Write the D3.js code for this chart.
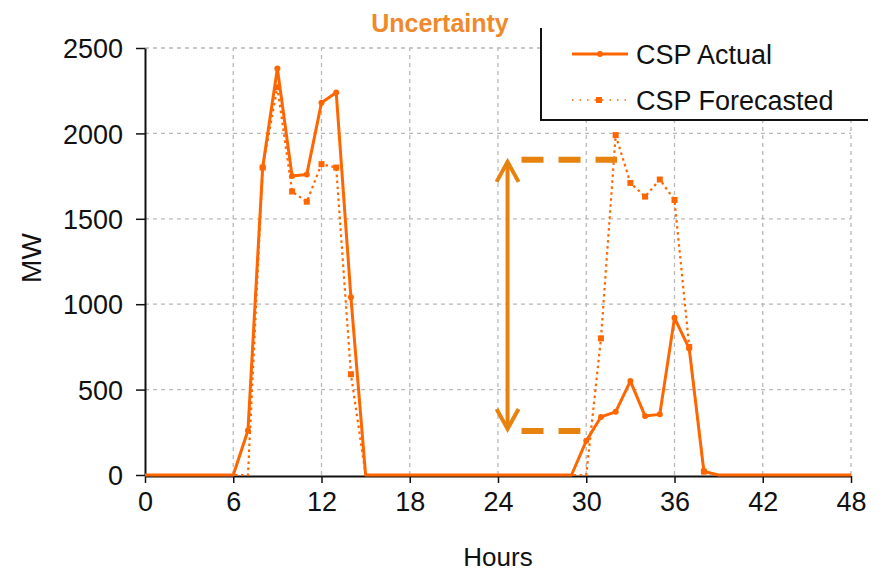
<!DOCTYPE html>
<html>
<head>
<meta charset="utf-8">
<script src="https://cdn.jsdelivr.net/npm/d3@7"></script>
<style>
  html, body { margin: 0; padding: 0; background: #fff; }
  svg { display: block; font-family: "Liberation Sans", Arial, sans-serif; }
</style>
</head>
<body>
<svg id="chart" width="883" height="572"></svg>
<script>
// ---- data ----
const hours = [0,1,2,3,4,5,6,7,8,9,10,11,12,13,14,15,16,17,18,19,20,21,22,23,24,
               25,26,27,28,29,30,31,32,33,34,35,36,37,38,39,40,41,42,43,44,45,46,47,48];
const cspActual = [0,0,0,0,0,0,0,260,1800,2380,1750,1760,2180,2240,1040,0,
                   0,0,0,0,0,0,0,0,0,0,0,0,0,0,
                   200,340,370,550,345,355,920,740,20,
                   0,0,0,0,0,0,0,0,0,0];
const cspForecast = [0,0,0,0,0,0,0,0,1800,2270,1660,1600,1820,1800,590,0,
                     0,0,0,0,0,0,0,0,0,0,0,0,0,0,0,
                     800,1990,1710,1630,1730,1610,750,20,
                     0,0,0,0,0,0,0,0,0,0];
const xTicks = [0,6,12,18,24,30,36,42,48];
const yTicks = [0,500,1000,1500,2000,2500];
const seriesNames = ["CSP Actual", "CSP Forecasted"];
const titleText = "Uncertainty";
const xLabel = "Hours";
const yLabel = "MW";
// annotation (data units): arrow hour, top/bottom MW, dash end hours
const annArrowHour = 24.65;
const annTop = 1845;
const annBottom = 258;
const annDashStart = 25.6;
const annTopDashEnd = 32.1;
const annBottomDashEnd = 29.6;

// ---- layout ----
const svg = d3.select("#chart");
const x = d3.scaleLinear().domain([0, 48]).range([145, 851]);
const y = d3.scaleLinear().domain([0, 2500]).range([475, 48]);
const orange = "#ff6600";
const annColor = "#e8820e";

// gridlines
const grid = svg.append("g");
grid.selectAll("line.h").data(yTicks.filter(d => d > 0)).join("line")
  .attr("x1", x(0)).attr("x2", x(48))
  .attr("y1", d => y(d)).attr("y2", d => y(d))
  .attr("stroke", "#b8b8b8").attr("stroke-width", 1.3).attr("stroke-dasharray", "4,4");
grid.selectAll("line.v").data(xTicks.filter(d => d > 0)).join("line")
  .attr("x1", d => x(d)).attr("x2", d => x(d))
  .attr("y1", y(0)).attr("y2", y(2500))
  .attr("stroke", "#b8b8b8").attr("stroke-width", 1.3).attr("stroke-dasharray", "4,4");

// axes
const xAxis = svg.append("g").attr("transform", `translate(0,${y(0)+1})`)
  .call(d3.axisBottom(x).tickValues(xTicks).tickFormat(d3.format("d"))
    .tickSize(7).tickSizeOuter(0).tickPadding(9));
const yAxis = svg.append("g").attr("transform", `translate(${x(0)},0)`)
  .call(d3.axisLeft(y).tickValues(yTicks).tickFormat(d3.format("d"))
    .tickSize(9).tickSizeOuter(0).tickPadding(13));
[xAxis, yAxis].forEach(a => {
  a.select(".domain").attr("stroke", "#111").attr("stroke-width", 2);
  a.selectAll(".tick line").attr("stroke", "#111").attr("stroke-width", 1.5);
  a.selectAll(".tick text").attr("font-size", 27).attr("fill", "#111")
    .attr("font-family", "Liberation Sans, Arial, sans-serif");
});
yAxis.selectAll(".tick text").attr("dy", "0.36em");

// lines
const pts = (vals) => hours.map((h, i) => [h, vals[i]]);
const line = d3.line().x(d => x(d[0])).y(d => y(d[1]));

svg.append("path").datum(pts(cspForecast)).attr("d", line)
  .attr("fill", "none").attr("stroke", orange).attr("stroke-width", 2.2)
  .attr("stroke-dasharray", "2.5,3.5");
svg.selectAll("rect.fm").data(pts(cspForecast).filter(d => d[1] > 0)).join("rect")
  .attr("x", d => x(d[0]) - 3).attr("y", d => y(d[1]) - 3)
  .attr("width", 6).attr("height", 6).attr("fill", orange);

svg.append("path").datum(pts(cspActual)).attr("d", line)
  .attr("fill", "none").attr("stroke", orange).attr("stroke-width", 3)
  .attr("stroke-linejoin", "round");
svg.selectAll("circle.am").data(pts(cspActual).filter(d => d[1] > 0)).join("circle")
  .attr("cx", d => x(d[0])).attr("cy", d => y(d[1])).attr("r", 3).attr("fill", orange);

// annotation
const ann = svg.append("g").attr("stroke", annColor).attr("fill", "none");
ann.append("line")
  .attr("x1", x(annDashStart)).attr("x2", x(annTopDashEnd))
  .attr("y1", y(annTop)).attr("y2", y(annTop))
  .attr("stroke-width", 6).attr("stroke-dasharray", "22,15");
ann.append("line")
  .attr("x1", x(annDashStart)).attr("x2", x(annBottomDashEnd))
  .attr("y1", y(annBottom)).attr("y2", y(annBottom))
  .attr("stroke-width", 6).attr("stroke-dasharray", "22,15");
const ax = x(annArrowHour);
ann.append("line").attr("x1", ax).attr("x2", ax)
  .attr("y1", y(annTop) + 3).attr("y2", y(annBottom) - 3).attr("stroke-width", 4);
ann.append("path")
  .attr("d", `M${ax-11},${y(annTop)+22} L${ax},${y(annTop)+2} L${ax+11},${y(annTop)+22}`)
  .attr("stroke-width", 4).attr("stroke-linejoin", "miter");
ann.append("path")
  .attr("d", `M${ax-11},${y(annBottom)-22} L${ax},${y(annBottom)-2} L${ax+11},${y(annBottom)-22}`)
  .attr("stroke-width", 4).attr("stroke-linejoin", "miter");

// legend
const lg = svg.append("g");
lg.append("rect").attr("x", 541).attr("y", 28).attr("width", 342).attr("height", 92).attr("fill", "#fff");
lg.append("line").attr("x1", 541).attr("x2", 541).attr("y1", 28).attr("y2", 120)
  .attr("stroke", "#111").attr("stroke-width", 2);
lg.append("line").attr("x1", 540).attr("x2", 868).attr("y1", 120).attr("y2", 120)
  .attr("stroke", "#111").attr("stroke-width", 2);
// actual sample
lg.append("line").attr("x1", 572).attr("x2", 628).attr("y1", 54).attr("y2", 54)
  .attr("stroke", orange).attr("stroke-width", 3);
lg.append("circle").attr("cx", 600).attr("cy", 54).attr("r", 3).attr("fill", orange);
// forecast sample
lg.append("line").attr("x1", 572).attr("x2", 628).attr("y1", 100).attr("y2", 100)
  .attr("stroke", orange).attr("stroke-width", 1.6).attr("stroke-dasharray", "1.5,6");
lg.append("rect").attr("x", 596).attr("y", 97).attr("width", 6).attr("height", 6).attr("fill", orange);
lg.selectAll("text").data(seriesNames).join("text")
  .attr("x", 636).attr("y", (d, i) => 64 + i * 46)
  .attr("font-size", 27).attr("fill", "#111").text(d => d);

// title & axis labels
svg.append("text").attr("x", 440).attr("y", 32).attr("text-anchor", "middle")
  .attr("font-size", 25).attr("font-weight", "bold").attr("fill", "#f0892a").text(titleText);
svg.append("text").attr("x", 498).attr("y", 566).attr("text-anchor", "middle")
  .attr("font-size", 26).attr("fill", "#111").text(xLabel);
svg.append("text").attr("transform", "translate(41,258) rotate(-90)").attr("text-anchor", "middle")
  .attr("font-size", 28).attr("fill", "#111").text(yLabel);
</script>
</body>
</html>
